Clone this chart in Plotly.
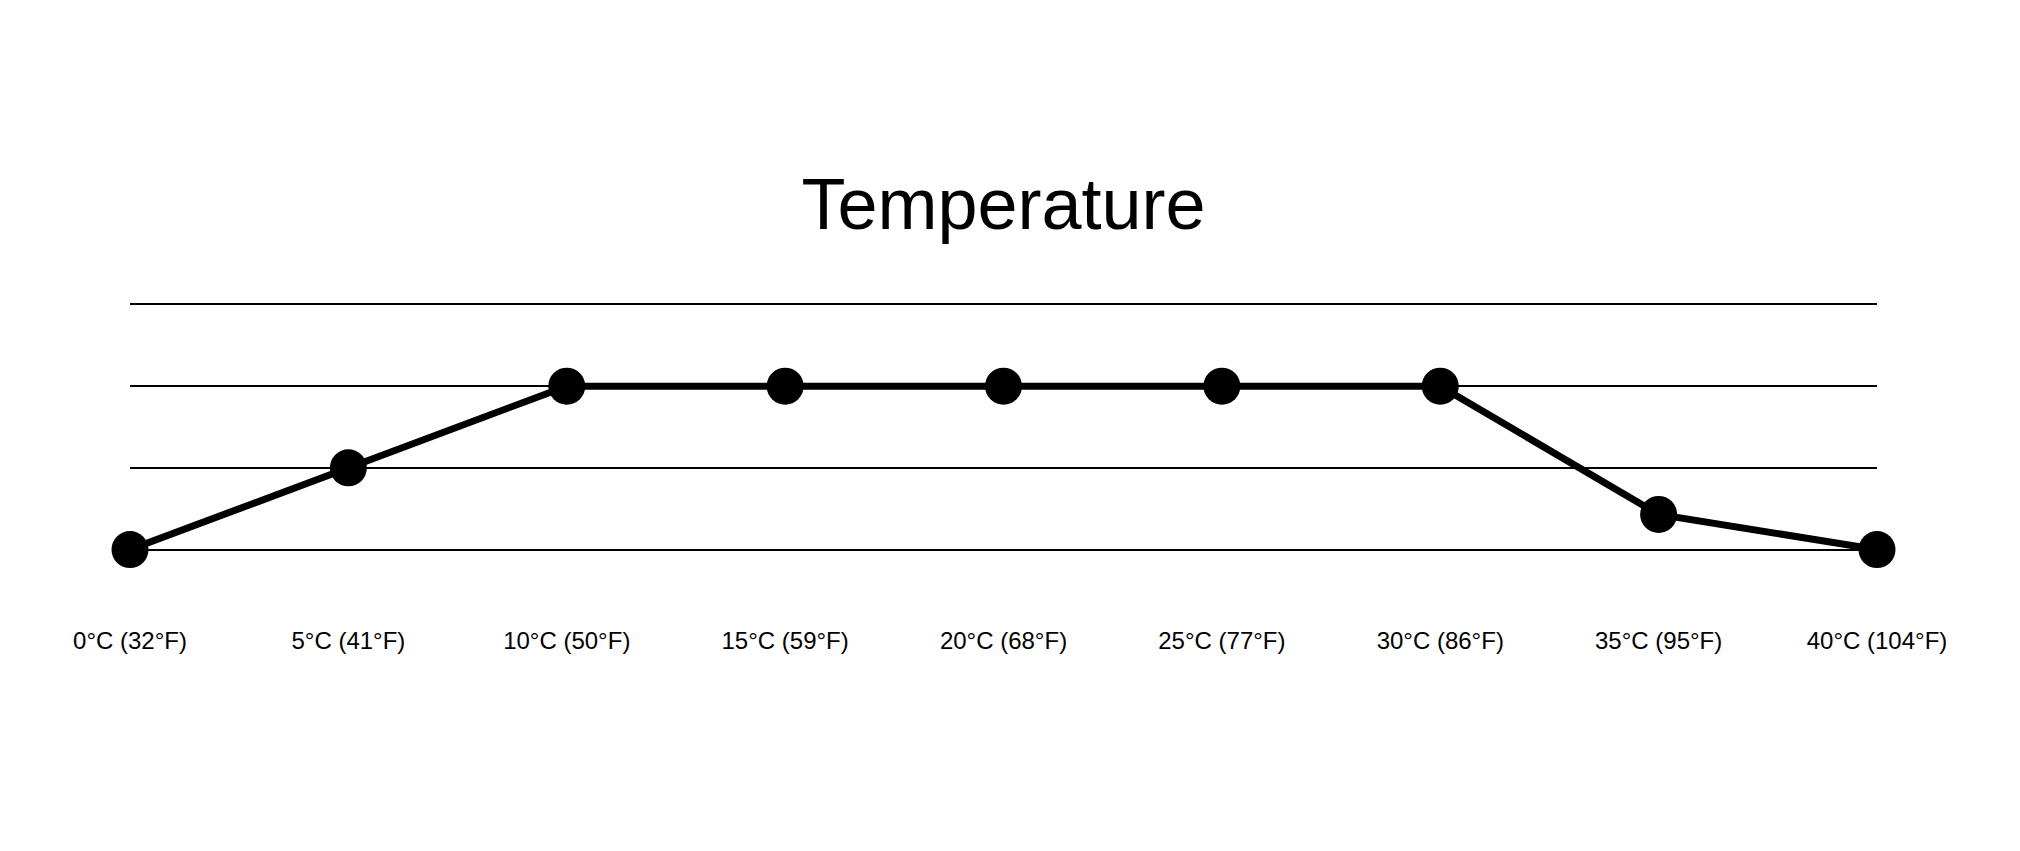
import plotly.graph_objects as go

categories = ["0°C (32°F)", "5°C (41°F)", "10°C (50°F)", "15°C (59°F)", "20°C (68°F)",
              "25°C (77°F)", "30°C (86°F)", "35°C (95°F)", "40°C (104°F)"]
values = [0, 1, 2, 2, 2, 2, 2, 0.43, 0]
grid_values = [0, 1, 2, 3]

fig = go.Figure(go.Scatter(
    x=categories, y=values, mode="lines+markers",
    line=dict(color="black", width=7),
    marker=dict(color="black", size=37),
    cliponaxis=False, hoverinfo="x+y",
))

# page has an 8px body margin, so everything is nudged up/left by 8px
fig.update_layout(
    width=2020, height=851,
    margin=dict(l=122, r=151, t=294, b=307),
    paper_bgcolor="white", plot_bgcolor="white",
    font=dict(family="Liberation Sans, Arial, sans-serif", color="black"),
    title=dict(text="Temperature", font=dict(size=72, color="black"),
               x=0.5, xref="paper", xanchor="center",
               y=1 - 196 / 851, yref="container", yanchor="middle"),
    showlegend=False,
)
fig.update_xaxes(
    type="category", range=[0, len(categories) - 1],
    showgrid=False, zeroline=False, showline=False,
    ticks="outside", ticklen=67, tickcolor="rgba(0,0,0,0)",
    tickfont=dict(size=24, color="black"),
)
# padded a little so plotly doesn't drop the 0 and 3 grid lines at the edges
fig.update_yaxes(
    range=[-0.03, 3.03], tickvals=grid_values, showticklabels=False,
    showgrid=True, gridcolor="black", gridwidth=1.6,
    zeroline=False, showline=False,
)

fig.write_html("out.html")
